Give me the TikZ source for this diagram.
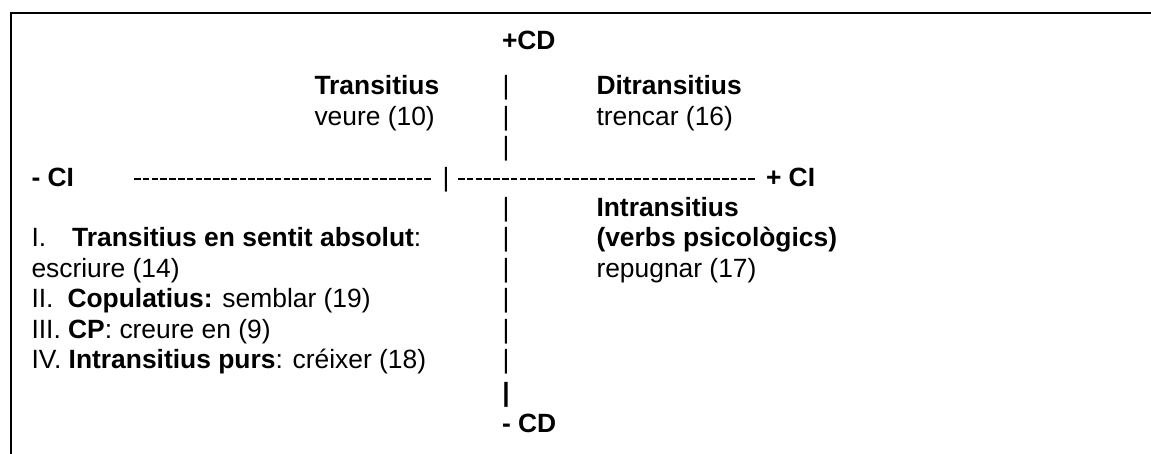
\documentclass[tikz,border=0pt]{standalone}
\usepackage{fontspec}
\setmainfont{Liberation Sans}
\begin{document}
\begin{tikzpicture}[x=1pt,y=-1pt,
  txt/.style={anchor=base west,inner sep=0pt,outer sep=0pt,font=\fontsize{26.4}{30.4}\selectfont},
  barmark/.style={anchor=base,inner sep=0pt,outer sep=0pt,font=\fontsize{26.4}{30.4}\selectfont},
  frameline/.style={line width=2pt,black},
  axisdash/.style={line width=2.3pt,dash pattern=on 6.5pt off 2.3pt}]
\useasboundingbox (0,0) rectangle (1151,454);
% frame (top and left edges)
\draw[frameline] (1151,13) -- (11,13) -- (11,454);
% vertical axis labels
\node[txt] (pcd) at (502,50) {\bfseries +CD};
\node[txt] (mcd) at (502,432) {\bfseries - CD};
% vertical axis bars
\foreach \k in {0,1,2,4,5,6,7,8,9}
  \node[barmark] (v\k) at (506,95+30.4*\k) {|};
\node[barmark] (v10) at (506,401) {\bfseries |};
% upper quadrants
\node[txt] (tr) at (314.5,95) {\bfseries Transitius};
\node[txt] (ve) at (314.5,125.4) {veure (10)};
\node[txt] (di) at (596.5,95) {\bfseries Ditransitius};
\node[txt] (tc) at (596.5,125.4) {trencar (16)};
% horizontal axis
\node[txt] (mci) at (31.5,186.2) {\bfseries - CI};
\node[barmark] (hmid) at (446,186.2) {|};
\node[txt] (pci) at (766,186.2) {\bfseries + CI};
\coordinate (dA) at (134,179.2);
\coordinate (dB) at (432,179.2);
\coordinate (dC) at (458,179.2);
\coordinate (dD) at (756,179.2);
\draw[axisdash] (dA) -- (dB);
\draw[axisdash] (dC) -- (dD);
% lower right
\node[txt] (in) at (596.5,216.6) {\bfseries Intransitius};
\node[txt] (vp) at (596.5,247) {\bfseries (verbs psicològics)};
\node[txt] (rp) at (596.5,277.4) {repugnar (17)};
% lower left
\node[txt] (l1) at (31.5,247) {I.\kern26pt\textbf{Transitius en sentit absolut}:};
\node[txt] (l2) at (31.5,277.4) {escriure (14)};
\node[txt] (l3) at (31.5,307.8) {II.\kern14pt\textbf{Copulatius:} semblar (19)};
\node[txt] (l4) at (31.5,338.2) {III. \textbf{CP}: creure en (9)};
\node[txt] (l5) at (31.5,368.6) {IV. \textbf{Intransitius purs}: créixer (18)};
\end{tikzpicture}
\end{document}
